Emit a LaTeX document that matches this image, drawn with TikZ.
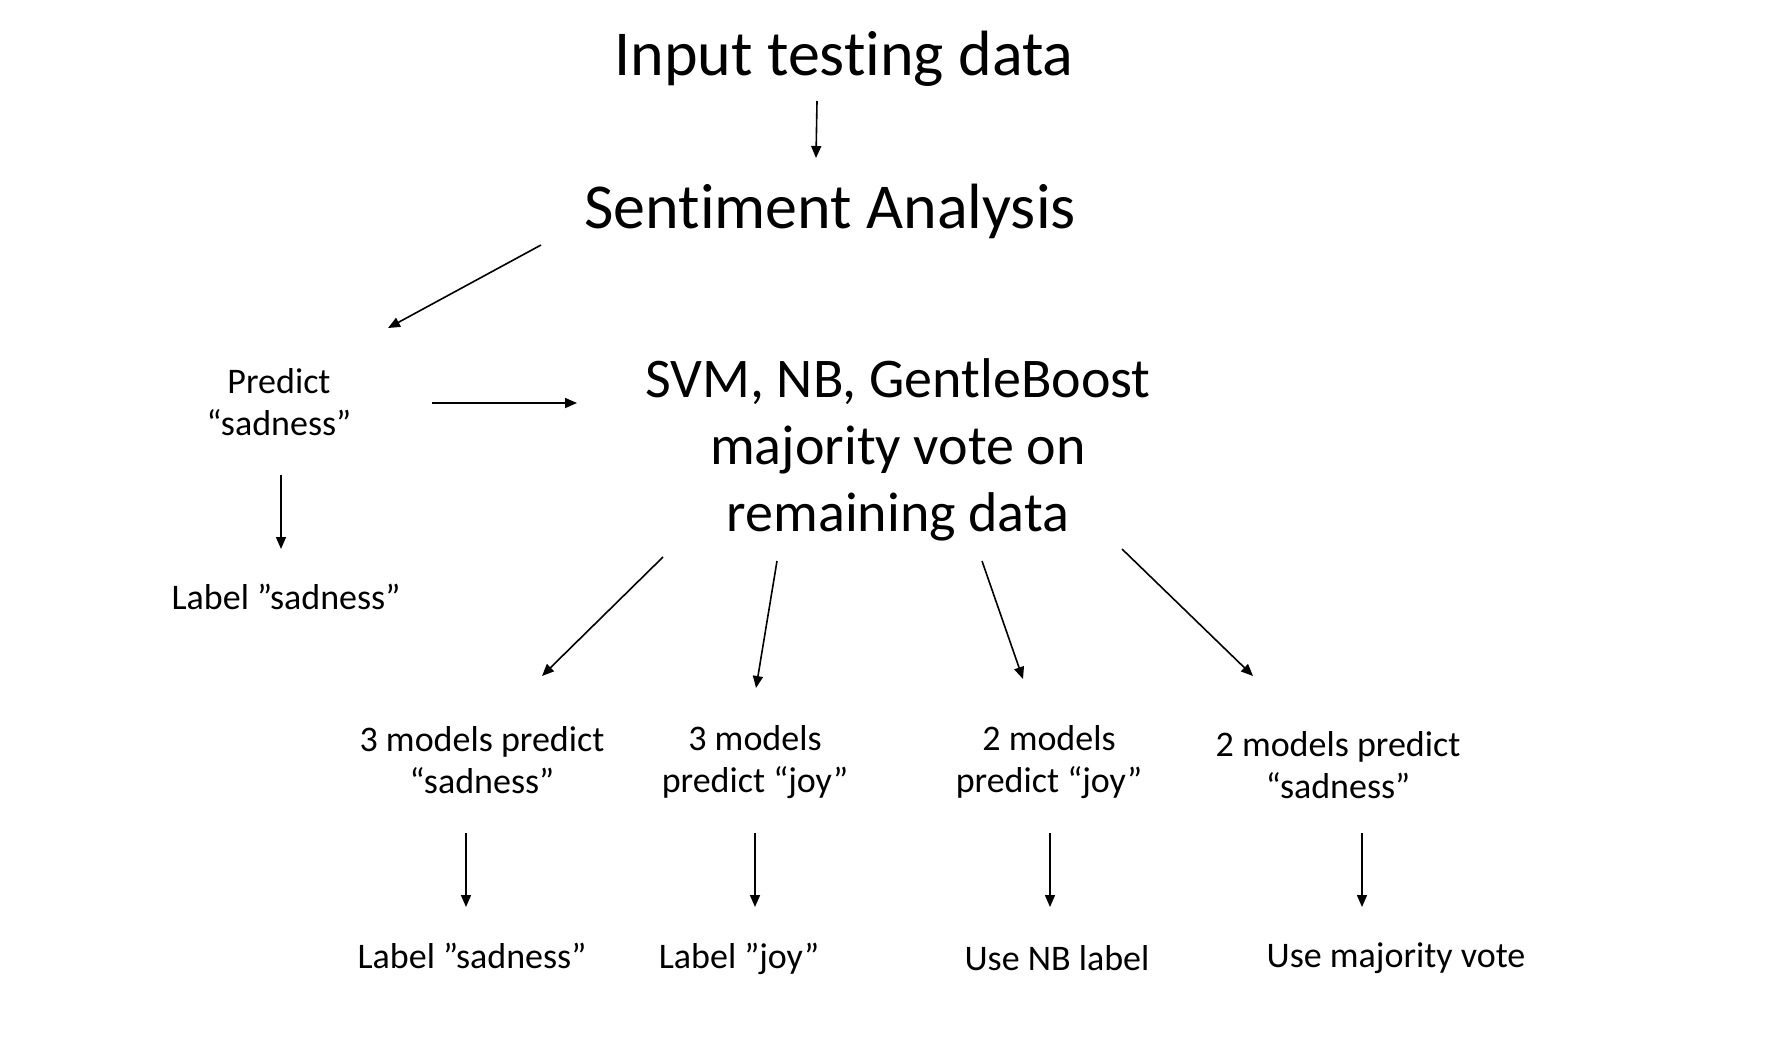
\documentclass[tikz,border=0pt]{standalone}
\usepackage{fontspec}
\setmainfont{Carlito}[Ligatures=NoCommon]
\usetikzlibrary{arrows.meta}
\begin{document}
\begin{tikzpicture}[x=1pt,y=-1pt,
  big/.style={inner sep=0pt,font=\fontsize{64}{77}\selectfont},
  mid/.style={inner sep=0pt,align=center,font=\fontsize{56}{67}\selectfont},
  small/.style={inner sep=0pt,align=center,font=\fontsize{36}{42}\selectfont},
  arr/.style={-{Triangle[length=12pt,width=10pt]},line width=1.6pt}]
\fill[white] (0,0) rectangle (1790,1042);
\useasboundingbox (0,0) rectangle (1790,1042);
% nodes
\node[big] (in) at (844,59) {Input testing data};
\node[big] (sa) at (830,211) {Sentiment Analysis};
\node[small] (pr) at (279,402) {Predict\\“sadness”};
\node[mid] (svm) at (898,450) {SVM, NB, GentleBoost\\majority vote on\\remaining data};
\node[small] (lab0) at (286,597) {Label ”sadness”};
\node[small] (m1) at (482,760) {3 models predict\\“sadness”};
\node[small] (m2) at (755,762) {3 models\\predict “joy”};
\node[small] (m3) at (1049,762) {2 models\\predict “joy”};
\node[small] (m4) at (1338,765) {2 models predict\\“sadness”};
\node[small] (b1) at (472,956) {Label ”sadness”};
\node[small] (b2) at (739,959) {Label ”joy”};
\node[small] (b3) at (1057,958) {Use NB label};
\node[small] (b4) at (1396,958) {Use majority vote};
% connectors
\draw[arr] ([shift={(-27,42)}]in.center) -- ([shift={(-14,-53)}]sa.center);
\draw[arr] ([shift={(-289,34)}]sa.center) -- ([shift={(109,-74)}]pr.center);
\draw[arr] ([shift={(153,1)}]pr.center) -- ([shift={(-321,-47)}]svm.center);
\draw[arr] ([shift={(2,73)}]pr.center) -- ([shift={(-5,-48)}]lab0.center);
\draw[arr] ([shift={(-235,107)}]svm.center) -- ([shift={(60,-84)}]m1.center);
\draw[arr] ([shift={(-121,111)}]svm.center) -- ([shift={(1,-74)}]m2.center);
\draw[arr] ([shift={(84,111)}]svm.center) -- ([shift={(-26,-83)}]m3.center);
\draw[arr] ([shift={(224,99)}]svm.center) -- ([shift={(-85,-89)}]m4.center);
\draw[arr] ([shift={(-16,73)}]m1.center) -- ([shift={(-6,-49)}]b1.center);
\draw[arr] ([shift={(0,71)}]m2.center) -- ([shift={(16,-52)}]b2.center);
\draw[arr] ([shift={(1,71)}]m3.center) -- ([shift={(-7,-51)}]b3.center);
\draw[arr] ([shift={(24,68)}]m4.center) -- ([shift={(-34,-51)}]b4.center);
\end{tikzpicture}
\end{document}
